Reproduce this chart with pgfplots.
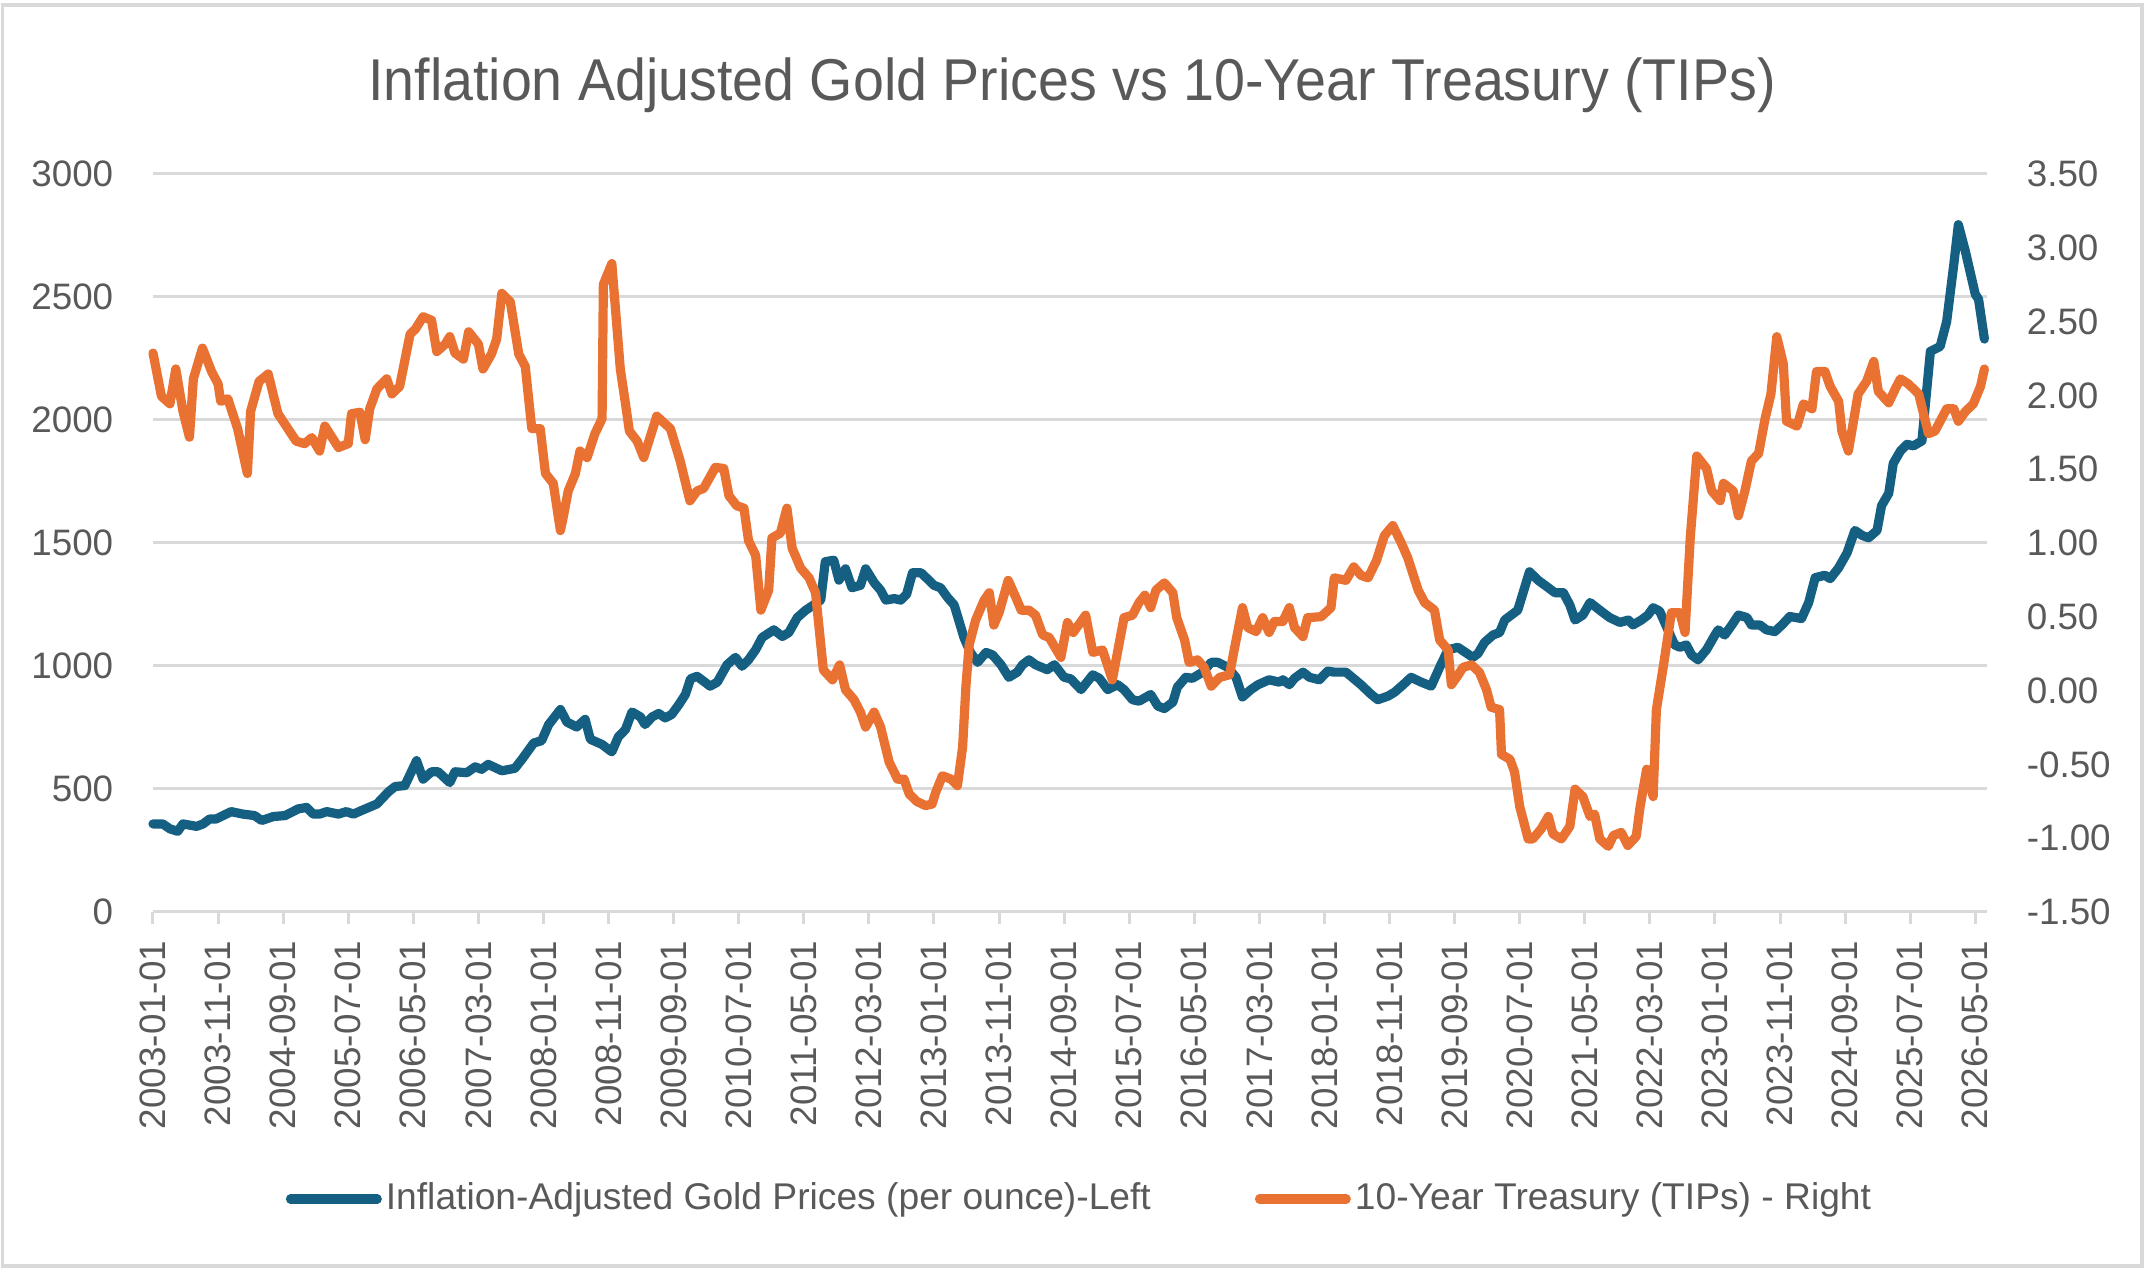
\documentclass[border=0pt]{standalone}
\usepackage{fontspec}
\setmainfont{Liberation Sans}
\newfontfamily\titlefont[FakeStretch=0.942]{Liberation Sans}
\usepackage{pgfplots}
\pgfplotsset{compat=1.18}
\definecolor{goldblue}{HTML}{156082}
\definecolor{tipsorange}{HTML}{E97132}
\definecolor{textgray}{HTML}{595959}
\definecolor{gridgray}{HTML}{D9D9D9}
\begin{document}
\begin{tikzpicture}
\path (0pt,0pt) rectangle (536.25pt,318.5pt);
\draw[gridgray, line width=0.9pt] (0.6pt,2pt) rectangle (535.5pt,317.2pt);
\node[anchor=base, text=textgray, inner sep=0pt] at (268pt,293.25pt) {\titlefont\fontsize{14.75}{17}\selectfont Inflation Adjusted Gold Prices vs 10-Year Treasury (TIPs)};
\begin{axis}[
  at={(38.25pt,90.5pt)}, anchor=south west,
  scale only axis, width=458.5pt, height=184.5pt,
  xmin=0, xmax=281.8, ymin=0, ymax=3000,
  axis x line*=bottom, axis y line*=left,
  x axis line style={draw=gridgray, line width=0.75pt, -},
  y axis line style={draw=none},
  tick align=outside, major tick length=3pt,
  xtick={0,10,...,280},
  xticklabels={2003-01-01,2003-11-01,2004-09-01,2005-07-01,2006-05-01,2007-03-01,2008-01-01,2008-11-01,2009-09-01,2010-07-01,2011-05-01,2012-03-01,2013-01-01,2013-11-01,2014-09-01,2015-07-01,2016-05-01,2017-03-01,2018-01-01,2018-11-01,2019-09-01,2020-07-01,2021-05-01,2022-03-01,2023-01-01,2023-11-01,2024-09-01,2025-07-01,2026-05-01},
  x tick style={draw=gridgray, line width=0.75pt},
  x tick label style={rotate=90, anchor=east, inner sep=0pt, font=\fontsize{9.2}{11}\selectfont, text=textgray},
  xticklabel shift=4pt,
  ytick={0,500,...,3000},
  yticklabels={0,500,1000,1500,2000,2500,3000},
  y tick style={draw=none},
  y tick label style={inner sep=0pt, font=\fontsize{9.2}{11}\selectfont, text=textgray},
  yticklabel shift=6.75pt,
  ymajorgrids, grid style={draw=gridgray, line width=0.75pt},
  /pgf/number format/assume math mode=true,
  clip=false,
]
\addplot[goldblue, line width=2.3pt, line join=round, line cap=round] coordinates {
(0,358)(1.5,358)(2.6,338)(3.8,328)(4.6,358)(6.7,348)(7.7,358)(8.7,378)(9.7,378)(12,408)
(13.8,398)(15.6,392)(16.7,372)(18.5,388)(20.3,392)(22.3,419)(23.6,425)(24.6,398)(25.6,398)(26.7,408)
(28.5,398)(29.7,408)(30.8,398)(32,412)(34.4,439)(36.2,489)(37.2,510)(38.7,514)(40.5,615)(41.5,540)
(42.8,570)(43.8,570)(45.6,526)(46.4,570)(48.2,566)(49.5,590)(50.5,580)(51.5,600)(53.6,574)(55.6,584)
(56.7,621)(58.5,687)(59.7,696)(60.8,762)(62.6,823)(63.6,772)(65.1,752)(66.4,783)(67.2,702)(69,681)
(70.5,651)(71.5,712)(72.6,742)(73.6,813)(74.9,793)(75.6,762)(76.7,793)(77.7,807)(78.7,789)(79.7,803)
(80.8,843)(81.8,884)(82.6,948)(83.6,958)(85.6,918)(86.7,934)(88.2,1005)(89.5,1035)(90.5,999)(91.5,1025)
(92.6,1066)(93.6,1116)(95.4,1147)(96.7,1120)(97.7,1136)(99,1197)(100.3,1227)(101.5,1248)(102.6,1268)(103.3,1424)
(104.6,1430)(105.4,1349)(106.4,1395)(107.4,1318)(108.7,1328)(109.5,1395)(110.8,1339)(111.8,1308)(112.6,1268)(113.9,1274)
(114.9,1268)(115.8,1292)(116.7,1379)(118,1379)(119.2,1349)(120,1328)(121,1318)(122.1,1278)(123.1,1248)(123.8,1187)
(124.6,1116)(125.6,1055)(126.7,1015)(128,1055)(129,1045)(130.3,1005)(131.5,954)(132.8,975)(133.6,1005)(134.6,1025)
(135.6,1005)(137.4,985)(138.5,1005)(140,954)(141,948)(142.6,904)(144.4,964)(145.4,950)(146.7,904)(148.2,924)
(149.2,904)(150.5,863)(151.5,857)(153.3,884)(154.4,837)(155.4,827)(156.7,853)(157.4,914)(158.7,954)(159.7,950)
(161.3,975)(162.6,1015)(163.6,1015)(165.1,995)(166.4,954)(167.4,874)(168.7,904)(169.8,924)(171.5,944)(173.1,934)
(173.6,944)(174.6,924)(175.4,950)(176.7,975)(177.7,954)(179.2,944)(180.5,979)(181.5,975)(183.3,975)(185.6,924)
(187.2,884)(188.2,863)(189.8,878)(190.8,894)(192.1,924)(193.3,954)(194.9,934)(196.4,918)(197.7,995)(199,1066)
(200.5,1076)(202.8,1035)(203.6,1051)(204.6,1096)(205.9,1126)(206.9,1136)(207.7,1187)(209.7,1227)(211.5,1383)(212.8,1349)
(214.4,1318)(215.4,1298)(216.7,1298)(217.7,1248)(218.5,1187)(219.7,1207)(220.8,1258)(222.3,1227)(223.8,1197)(225.4,1177)
(226.7,1187)(227.4,1167)(228.7,1187)(229.7,1207)(230.5,1237)(231.5,1223)(232.6,1157)(233.8,1086)(234.6,1076)(235.6,1086)
(236.4,1045)(237.4,1025)(238.7,1066)(240,1126)(240.5,1147)(241.5,1126)(242.6,1167)(243.6,1207)(244.9,1197)(245.6,1167)
(246.9,1167)(247.9,1147)(249.2,1140)(250.3,1167)(251.5,1201)(253.3,1193)(254.4,1258)(255.4,1359)(256.9,1369)(257.7,1355)
(259,1399)(260.3,1460)(261.5,1551)(262.6,1531)(263.6,1521)(264.9,1551)(265.6,1652)(266.7,1702)(267.4,1824)(268.5,1874)
(269.5,1901)(270.5,1895)(271.8,1915)(273.1,2279)(274.6,2299)(275.6,2400)(276.7,2633)(277.4,2794)(278.5,2683)(280,2511)
(280.5,2491)(281.4,2329)
};
\end{axis}
\begin{axis}[
  at={(38.25pt,90.5pt)}, anchor=south west,
  scale only axis, width=458.5pt, height=184.5pt,
  xmin=0, xmax=281.8, ymin=-1.5, ymax=3.5,
  axis x line=none, axis y line*=right,
  y axis line style={draw=none},
  tick align=outside, major tick length=3pt,
  ytick={-1.5,-1,-0.5,0,0.5,1,1.5,2,2.5,3,3.5},
  yticklabels={-1.50,-1.00,-0.50,0.00,0.50,1.00,1.50,2.00,2.50,3.00,3.50},
  y tick style={draw=none},
  y tick label style={inner sep=0pt, anchor=west, font=\fontsize{9.2}{11}\selectfont, text=textgray},
  yticklabel shift=6.75pt,
  /pgf/number format/assume math mode=true,
  clip=false,
  legend columns=2,
  legend style={at={(0.5057,-0.3889)}, anchor=center, draw=none, fill=none,
    font=\fontsize{9.3}{11}\selectfont, text=textgray, inner sep=0pt,
    nodes={inner sep=1pt},
    /tikz/every even column/.append style={column sep=25pt}},
  legend cell align=left,
  legend image code/.code={\draw[#1, line cap=round] (0pt,0pt) -- (21.7pt,0pt);},
]
\addlegendimage{goldblue, line width=2.3pt}
\addlegendentry{Inflation-Adjusted Gold Prices (per ounce)-Left}
\addplot[tipsorange, line width=2.3pt, line join=round, line cap=round] coordinates {
(0,2.287)(1.3,1.994)(2.6,1.943)(3.5,2.179)(4.6,1.893)(5.6,1.717)(6.2,2.112)(7.6,2.32)(9,2.162)(10,2.078)
(10.4,1.96)(11.5,1.977)(13,1.775)(14.5,1.471)(15,1.892)(16.3,2.095)(17.7,2.145)(19.2,1.876)(22,1.69)(23.3,1.673)
(24.4,1.714)(25.6,1.623)(26.4,1.792)(28.5,1.647)(30,1.673)(30.5,1.876)(31.8,1.886)(32.6,1.70)(33.3,1.909)(34.4,2.044)
(35.9,2.112)(36.7,2.01)(37.9,2.061)(39.5,2.415)(40.3,2.448)(41.5,2.533)(42.8,2.509)(43.6,2.297)(44.9,2.347)(45.6,2.398)
(46.4,2.287)(47.7,2.246)(48.5,2.431)(50,2.347)(50.7,2.179)(52,2.28)(52.8,2.381)(53.6,2.691)(54.9,2.634)(56.2,2.28)
(57.2,2.196)(58.2,1.775)(59.5,1.775)(60.3,1.471)(61.5,1.404)(62.6,1.084)(63,1.168)(63.8,1.353)(64.9,1.471)(65.6,1.623)
(66.7,1.579)(67.9,1.741)(69,1.842)(69.2,2.752)(70.5,2.893)(71.8,2.18)(72.6,1.943)(73.2,1.758)(74.4,1.69)(75.4,1.579)
(77.4,1.859)(79.5,1.775)(81,1.556)(82.5,1.286)(83.6,1.353)(84.6,1.370)(86.4,1.512)(87.7,1.505)(88.5,1.32)(89.7,1.252)
(90.8,1.236)(91.5,1.017)(92.6,0.916)(93.4,0.545)(94.6,0.68)(95.1,1.034)(96.4,1.067)(97.4,1.236)(98.2,0.966)(99.5,0.831)
(100.8,0.764)(101.8,0.663)(103,0.14)(104.4,0.073)(105.5,0.174)(106.4,0.006)(107.7,-0.061)(108.7,-0.146)(109.5,-0.247)(110.8,-0.146)
(111.8,-0.247)(113.1,-0.483)(114.4,-0.6)(115.4,-0.6)(116.2,-0.701)(117.4,-0.752)(118.7,-0.779)(119.7,-0.769)(120.3,-0.685)(121.3,-0.577)
(122.6,-0.6)(123.6,-0.644)(124.4,-0.381)(124.9,0.023)(125.4,0.309)(126.4,0.478)(127.7,0.612)(128.5,0.663)(129.2,0.444)(130,0.528)
(131.4,0.747)(132.6,0.629)(133.4,0.545)(134.6,0.545)(135.6,0.511)(136.7,0.377)(137.7,0.36)(139.5,0.225)(140.5,0.461)(141.4,0.394)
(143.3,0.511)(144.4,0.259)(145.9,0.275)(147.4,0.073)(149.2,0.494)(150.5,0.511)(151.5,0.596)(152.4,0.646)(153.3,0.562)(154.1,0.68)
(155.4,0.73)(156.7,0.663)(157.3,0.494)(158.5,0.343)(159.2,0.191)(160.5,0.208)(161.5,0.158)(162.6,0.03)(163.9,0.09)(165.4,0.107)
(166.2,0.292)(167.4,0.562)(168.2,0.427)(169.5,0.4)(170.5,0.494)(171.5,0.394)(172.3,0.468)(173.6,0.468)(174.6,0.562)(175.4,0.427)
(176.7,0.366)(177.4,0.494)(179.5,0.501)(181,0.562)(181.5,0.764)(183.3,0.747)(184.5,0.838)(185.6,0.781)(186.7,0.764)(188,0.882)
(189.2,1.05)(190.5,1.118)(191.8,1.0)(192.8,0.899)(194.4,0.68)(195.4,0.596)(196.9,0.545)(197.7,0.343)(199,0.275)(199.5,0.04)
(200.3,0.09)(201.3,0.158)(202.6,0.174)(203.8,0.124)(204.9,0.006)(205.6,-0.112)(206.9,-0.129)(207.2,-0.432)(208.5,-0.466)(209.2,-0.55)
(210,-0.786)(211.3,-1.005)(212,-1.005)(213.3,-0.937)(214.4,-0.853)(215.1,-0.971)(216.4,-1.005)(217.7,-0.92)(218.5,-0.668)(219.7,-0.718)
(220.8,-0.853)(221.5,-0.836)(222.3,-1.005)(223.6,-1.055)(224.4,-0.981)(225.6,-0.961)(226.6,-1.049)(227.9,-0.988)(228.5,-0.786)(229.5,-0.533)
(230.5,-0.718)(231,-0.129)(232.1,0.174)(233.3,0.528)(234.6,0.528)(235.4,0.394)(236.2,1.034)(237.2,1.589)(238.7,1.505)(239.5,1.353)
(240.8,1.286)(241.3,1.404)(242.8,1.353)(243.6,1.185)(244.6,1.353)(245.6,1.556)(246.7,1.606)(247.7,1.842)(248.6,2.01)(249.5,2.398)
(250.5,2.213)(251,1.825)(252.6,1.792)(253.6,1.943)(254.9,1.909)(255.6,2.162)(256.9,2.162)(257.7,2.061)(259,1.96)(259.5,1.758)
(260.5,1.623)(262,2.01)(263.3,2.095)(264.4,2.23)(265.1,2.027)(266.7,1.95)(267.7,2.044)(268.5,2.112)(269.7,2.078)(271.3,2.01)
(272.8,1.741)(273.8,1.758)(275.6,1.909)(276.7,1.909)(277.4,1.825)(278.5,1.892)(279.7,1.943)(280.8,2.061)(281.4,2.179)
};
\addlegendentry{10-Year Treasury (TIPs) - Right}
\end{axis}
\end{tikzpicture}
\end{document}
